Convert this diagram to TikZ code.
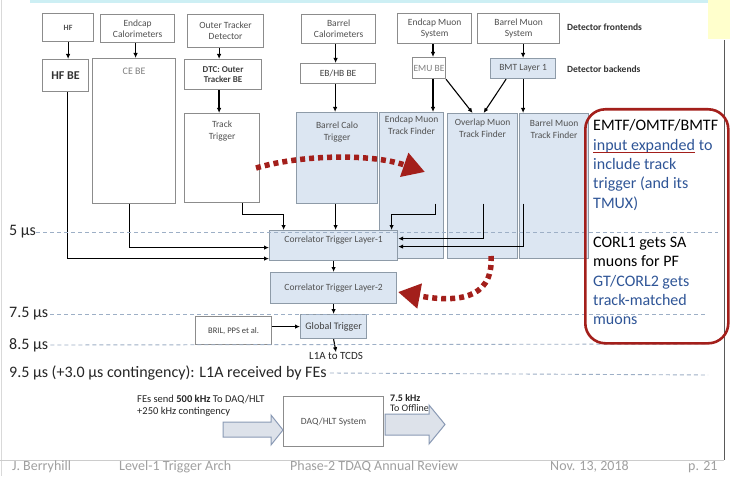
\documentclass[tikz,border=0pt]{standalone}
\usepackage{fontspec}
\setmainfont{Carlito}
\usetikzlibrary{arrows.meta}
\definecolor{boxgray}{HTML}{8C8C8C}
\definecolor{bluefill}{HTML}{DCE6F2}
\definecolor{blueedge}{HTML}{8E9BA8}
\definecolor{txtgray}{HTML}{505050}
\definecolor{tline}{HTML}{9DAFC6}
\definecolor{redc}{HTML}{A31F1B}
\definecolor{calloutblue}{HTML}{2F5597}
\definecolor{footgray}{HTML}{A0A0A0}
\definecolor{arrfill}{HTML}{DDE2EA}
\definecolor{arredge}{HTML}{8A9AB5}
\definecolor{cyanband}{HTML}{CDEFF4}
\definecolor{yellowbox}{HTML}{FFFFCC}
\newcommand\bx[7]{\node[#6,anchor=north west,minimum width={(#4-#2)*1pt},minimum height={(#5-#3)*1pt}] (#1) at (#2,#3) {#7};}
\tikzset{
  fe/.style={draw=boxgray, line width=1.2pt, fill=white, inner sep=1pt, align=center, text=txtgray, font=\fontsize{9.5}{11}\selectfont},
  bl/.style={fe, draw=blueedge, fill=bluefill},
  lbl/.style={anchor=north, align=center, inner sep=0pt, text=txtgray, font=\fontsize{9.5}{11.5}\selectfont},
  conn/.style={draw=black, line width=1.1pt, -{Latex[length=5pt,width=4.5pt]}},
  tl/.style={draw=tline, line width=0.9pt, dash pattern=on 4pt off 3pt},
  reddot/.style={draw=redc, line width=5.5pt, dash pattern=on 5pt off 4pt, -{Triangle[length=22pt,width=24pt]}},
  tlab/.style={anchor=west, inner sep=0pt, text=black!85, font=\fontsize{16}{19}\selectfont},
  foot/.style={anchor=west, inner sep=0pt, text=footgray, font=\fontsize{14}{16}\selectfont},
  ct/.style={anchor=base west, inner sep=0pt, font=\fontsize{16}{19}\selectfont},
  side/.style={anchor=west, inner sep=0pt, text=black!80, font=\bfseries\fontsize{9.5}{11}\selectfont}
}
\begin{document}
\begin{tikzpicture}[x=1pt,y=-1pt]
\useasboundingbox (0,0) rectangle (730,476);
\fill[white] (0,0) rectangle (730,476);
\fill[cyanband] (30,0) rectangle (708,3);
\fill[yellowbox] (708,0) rectangle (730,39);
\draw[gray!30, line width=1pt] (1.5,0) -- (1.5,476);
\draw[gray!70!black, line width=1.5pt] (724.5,40) -- (724.5,460);
\draw[gray!40, line width=1pt] (0,460) -- (724,460);

% frontends
\bx{HF}{42}{13}{93}{41}{fe, font=\bfseries\fontsize{8}{10}\selectfont}{HF}
\bx{ECAL}{100}{14}{174}{42}{fe}{Endcap\\Calorimeters}
\bx{OT}{187}{14}{263}{47}{fe}{Outer Tracker\\Detector}
\bx{BCAL}{301}{14}{375}{43}{fe}{Barrel\\Calorimeters}
\bx{EMS}{397}{13}{471}{43}{fe}{Endcap Muon\\System}
\bx{BMS}{477}{13}{559}{43}{fe}{Barrel Muon\\System}
\node[side] (dfe) at (567,27) {Detector frontends};
% backends
\bx{HFBE}{42}{59}{88}{91}{fe, text=black!80, font=\bfseries\fontsize{12}{14}\selectfont}{HF BE}
\bx{CEBE}{92}{58}{175}{203}{fe, label={[lbl, yshift=-10pt, text=gray, font=\fontsize{10}{12}\selectfont]north:CE BE}}{}
\bx{DTC}{184}{59}{261}{89}{fe, text=black!75, font=\bfseries\fontsize{9}{10.5}\selectfont}{DTC: Outer\\Tracker BE}
\bx{EBHB}{300}{63}{375}{83}{fe, text=black!75}{EB/HB BE}
\bx{EMUBE}{412}{57}{443}{78}{fe, text=gray}{EMU BE}
\bx{BMT}{490}{58}{555}{78}{bl}{BMT Layer 1}
\node[side] (dbe) at (567,69) {Detector backends};
% trigger processors
\bx{TT}{184}{113}{259}{202}{fe, label={[lbl, yshift=-8pt]north:{Track\\Trigger}}}{}
\bx{BCT}{296}{112}{377}{203}{bl, label={[lbl, yshift=-10pt]north:{Barrel Calo\\Trigger}}}{}
\bx{EMTF}{379}{112}{443}{258}{bl, label={[lbl, yshift=-4pt]north:{Endcap Muon\\Track Finder}}}{}
\bx{OMTF}{447}{113}{517}{258}{bl, label={[lbl, yshift=-6pt]north:{Overlap Muon\\Track Finder}}}{}
\bx{BMTF}{519}{113}{588}{258}{bl, label={[lbl, yshift=-7pt]north:{Barrel Muon\\Track Finder}}}{}
\bx{CTL1}{269}{230}{397}{260}{bl, label={[lbl, yshift=-6pt]north:{Correlator Trigger Layer-1}}}{}
\bx{CTL2}{270}{272}{396}{303}{bl}{Correlator Trigger Layer-2}
\bx{GT}{300}{314}{366}{338}{bl, text=black!75, font=\fontsize{10}{12}\selectfont}{Global Trigger}
\bx{BRIL}{195}{316}{271}{344}{fe, text=black!75, font=\fontsize{8.5}{10}\selectfont}{BRIL, PPS et al.}
\node[inner sep=0pt, text=black!85, font=\fontsize{11}{13}\selectfont] (l1a) at (336,356) {L1A to TCDS};
\bx{DAQ}{283}{396}{383}{446}{fe}{DAQ/HLT System}

% connectors
\draw[conn] (HF.south |- HF.south) -- (HF.south |- HFBE.north);
\draw[conn] ([xshift=-2pt]ECAL.south) -- ([xshift=-2pt]ECAL.south |- CEBE.north);
\draw[conn] ([xshift=-4pt]DTC.north |- OT.south) -- ([xshift=-4pt]DTC.north);
\draw[conn, line width=1.8pt] ([xshift=-4pt]DTC.south) -- ([xshift=-4pt]DTC.south |- TT.north);
\draw[conn] ([xshift=-3pt]BCAL.south) -- ([xshift=-3pt]BCAL.south |- EBHB.north);
\draw[conn] ([xshift=-3pt]EBHB.south) -- ([xshift=-3pt]EBHB.south |- BCT.north);
\draw[conn] ([xshift=4pt]EMUBE.north |- EMS.south) -- ([xshift=4pt]EMUBE.north);
\draw[conn] (BMT.north |- BMS.south) -- (BMT.north);
\draw[conn] ([xshift=4pt]EMUBE.south) -- ([xshift=4pt]EMUBE.south |- EMTF.north);
\draw[conn] (EMUBE.south east) -- ([xshift=-10pt]OMTF.north);
\draw[conn] ([xshift=-17pt]BMT.south) -- ([xshift=1pt]OMTF.north);
\draw[conn] (BMT.south) -- (BMT.south |- BMTF.north);

\draw[conn] ([xshift=2pt]HFBE.south) |- ([yshift=-13pt]CTL1.west);
\draw[conn] ([xshift=-4.5pt]CEBE.south) |- ([yshift=-2pt]CTL1.west);
\draw[conn] ([xshift=20.5pt]TT.south) -- ++(0,11) -| ([xshift=-50pt]CTL1.north);
\draw[conn] ([xshift=-1.5pt]BCT.south) -- ([xshift=-1.5pt]BCT.south |- CTL1.north);
\draw[conn] ([xshift=24pt,yshift=-18pt]EMTF.center) -- ++(0,11) -| ([xshift=58pt]CTL1.north);
\draw[conn] ([xshift=1pt,yshift=-17.5pt]OMTF.center) |- ([yshift=7pt]CTL1.east);
\draw[conn] ([xshift=-30.5pt,yshift=-17.5pt]BMTF.center) |- ([yshift=-1pt]CTL1.east);
\draw[conn] (CTL1.south) -- (CTL1.south |- CTL2.north);
\draw[conn] (CTL2.south) -- (CTL2.south |- GT.north);
\draw[conn] (GT.west -| BRIL.east) -- (GT.west);
\draw[conn] (GT.south) -- (l1a.north);

% time lines
\node[tlab] (t5) at (9,232) {5 μs};
\node[tlab] (t75) at (9,314) {7.5 μs};
\node[tlab] (t85) at (9,345) {8.5 μs};
\node[tlab] (t95) at (9,373) {9.5 μs (+3.0 μs contingency): L1A received by FEs};
\draw[tl] (t5.east) -- (718,232);
\draw[tl] ([xshift=2pt]t75.east) -- (708,314);
\draw[tl] ([xshift=2pt]t85.east) -- (708,344);
\draw[tl] ([xshift=3pt]t95.east) -- (708,375);

% red dotted arrows
\coordinate (r1s) at (256,168);
\coordinate (r1e) at (425,172);
\draw[reddot] (r1s) .. controls (300,155) and (370,153) .. (r1e);
\coordinate (r2s) at (491,256);
\coordinate (r2e) at (398,292);
\draw[reddot] (r2s) .. controls (494,302) and (452,302) .. (r2e);

% callout
\bx{CB}{584}{108}{727}{342}{draw=redc, line width=2.6pt, rounded corners=20pt}{}
\node[ct, text=black] (c1) at (593,131) {EMTF/OMTF/BMTF};
\node[ct, text=calloutblue] (c2a) at (593,150) {input expanded};
\node[ct, text=calloutblue] (c2b) at (c2a.base east) {\ to};
\draw[redc, line width=1.2pt] ([yshift=-2.5pt]c2a.base west) -- ([yshift=-2.5pt]c2a.base east);
\node[ct, text=calloutblue] (c3) at (593,169) {include track};
\node[ct, text=calloutblue] (c4) at (593,188.5) {trigger (and its};
\node[ct, text=calloutblue] (c5) at (593,208) {TMUX)};
\node[ct, text=black] (c6) at (593,247.5) {CORL1 gets SA};
\node[ct, text=black] (c7) at (593,266.5) {muons for PF};
\node[ct, text=calloutblue] (c8) at (593,286) {GT/CORL2 gets};
\node[ct, text=calloutblue] (c9) at (593,305.5) {track-matched};
\node[ct, text=calloutblue] (c10) at (593,324.5) {muons};

% DAQ arrows and texts
\node[anchor=west, align=left, inner sep=0pt, text=black!85, font=\fontsize{10.5}{11.5}\selectfont] (fes) at (137,405.5) {FEs send \textbf{500 kHz} To DAQ/HLT\\+250 kHz contingency};
\node[anchor=west, align=left, inner sep=0pt, text=black!85, font=\fontsize{10}{10.5}\selectfont] (off) at (390,403) {\textbf{7.5 kHz}\\To Offline};
\draw[fill=arrfill, draw=arredge, line width=1pt] (223,422) -- (271,422) -- (271,415) -- (283,430) -- (271,445) -- (271,437) -- (223,437) -- cycle;
\draw[fill=arrfill, draw=arredge, line width=1pt] (385,414) -- (429,414) -- (429,405) -- (445,424.5) -- (429,444) -- (429,435) -- (385,435) -- cycle;

% footer
\node[foot] (f1) at (12,467) {J. Berryhill};
\node[foot] (f2) at (119,467) {Level-1 Trigger Arch};
\node[foot] (f3) at (290,467) {Phase-2 TDAQ Annual Review};
\node[foot] (f4) at (550,467) {Nov. 13, 2018};
\node[foot] (f5) at (688,467) {p. 21};
\end{tikzpicture}
\end{document}
